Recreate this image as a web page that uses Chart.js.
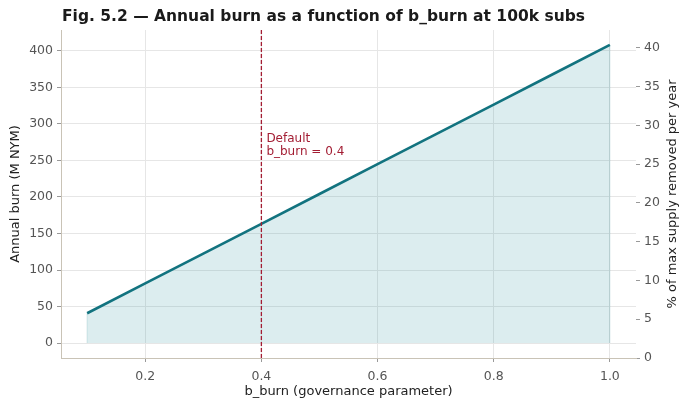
<!DOCTYPE html>
<html>
<head>
<meta charset="utf-8">
<script src="https://cdn.jsdelivr.net/npm/chart.js@4.4.1/dist/chart.umd.min.js"></script>
<style>
  html, body { margin: 0; padding: 0; background: #fff; }
  #wrap { width: 690px; height: 409px; position: relative; }
</style>
</head>
<body>
<div id="wrap"><canvas id="Chart"></canvas></div>
<script>
// b_burn values and the annual burn
const bBurn = [0.1, 0.2, 0.3, 0.4, 0.5, 0.6, 0.7, 0.8, 0.9, 1.0];
const annualBurn = [40.8, 81.6, 122.4, 163.2, 204, 244.8, 285.6, 326.4, 367.2, 408];
const leftTicks = [0, 50, 100, 150, 200, 250, 300, 350, 400];
const rightTicks = [0, 5, 10, 15, 20, 25, 30, 35, 40];
const xTicks = [0.2, 0.4, 0.6, 0.8, 1.0];
const defaultB = 0.4;

const FONT = 'DejaVu Sans, sans-serif';
const lineColor = '#12737f';
const markColor = '#a31d33';

const points = bBurn.map((b, i) => ({ x: b, y: annualBurn[i] }));

// title, axis titles, default marker and label
const extras = {
    id: 'extras',
    beforeDatasetsDraw(chart) {
        const { ctx, scales } = chart;
        // faint edges of the filled area
        const x0 = scales.x.getPixelForValue(bBurn[0]);
        const x1 = scales.x.getPixelForValue(bBurn[bBurn.length - 1]);
        ctx.save();
        ctx.strokeStyle = 'rgba(18,115,127,0.18)';
        ctx.lineWidth = 1;
        ctx.beginPath();
        ctx.moveTo(x1, scales.y.getPixelForValue(0));
        ctx.lineTo(x1, scales.y.getPixelForValue(annualBurn[annualBurn.length - 1]));
        ctx.moveTo(x0, scales.y.getPixelForValue(0));
        ctx.lineTo(x0, scales.y.getPixelForValue(annualBurn[0]));
        ctx.stroke();
        ctx.restore();
    },
    afterDatasetsDraw(chart) {
        const { ctx, chartArea, scales } = chart;
        const x = scales.x.getPixelForValue(defaultB);
        ctx.save();
        ctx.strokeStyle = markColor;
        ctx.lineWidth = 1.3;
        ctx.setLineDash([4, 2]);
        ctx.beginPath();
        ctx.moveTo(x, chartArea.top);
        ctx.lineTo(x, chartArea.bottom);
        ctx.stroke();
        ctx.setLineDash([]);
        ctx.fillStyle = markColor;
        ctx.font = '12px ' + FONT;
        ctx.textBaseline = 'middle';
        ctx.fillText('Default', x + 5, 138.5);
        ctx.fillText('b_burn = 0.4', x + 5, 151.5);

        ctx.fillStyle = '#1a1a1a';
        ctx.font = 'bold 15.5px ' + FONT;
        ctx.textBaseline = 'alphabetic';
        ctx.fillText('Fig. 5.2 \u2014 Annual burn as a function of b_burn at 100k subs', 62, 21);

        // axis titles
        const midY = (chartArea.top + chartArea.bottom) / 2;
        ctx.fillStyle = '#222';
        ctx.font = '13px ' + FONT;
        ctx.textAlign = 'center';
        ctx.textBaseline = 'middle';
        ctx.fillText('b_burn (governance parameter)', (chartArea.left + chartArea.right) / 2, 392);
        ctx.save();
        ctx.translate(16, midY);
        ctx.rotate(-Math.PI / 2);
        ctx.fillText('Annual burn (M NYM)', 0, 0);
        ctx.restore();
        ctx.save();
        ctx.translate(673, midY);
        ctx.rotate(-Math.PI / 2);
        ctx.fillText('% of max supply removed per year', 0, 0);
        ctx.restore();
        ctx.restore();
    }
};

const tickFont = { family: FONT, size: 12.5 };

const config = {
    type: 'line',
    data: {
        datasets: [{
            data: points,
            borderColor: lineColor,
            borderWidth: 2.6,
            backgroundColor: 'rgba(40,140,155,0.16)',
            fill: 'origin',
            pointRadius: 0,
            tension: 0,
            yAxisID: 'y',
        }],
    },
    options: {
        responsive: true,
        maintainAspectRatio: false,
        animation: false,
        layout: { padding: { top: 30, left: 0, right: 0, bottom: 0 } },
        plugins: {
            legend: { display: false },
            title: { display: false },
            tooltip: { enabled: false },
        },
        scales: {
            x: {
                type: 'linear',
                min: 0.055,
                max: 1.045,
                afterBuildTicks(scale) { scale.ticks = xTicks.map(v => ({ value: v })); },
                afterFit(scale) { scale.height = 51; },
                ticks: {
                    color: '#555',
                    font: tickFont,
                    padding: 7,
                    callback: v => v.toFixed(1),
                },
                grid: { color: '#e6e6e6', tickColor: '#999', tickLength: 4 },
                border: { color: '#c9c3b6', width: 1 },
            },
            y: {
                position: 'left',
                min: -20.4,
                max: 428.4,
                afterBuildTicks(scale) { scale.ticks = leftTicks.map(v => ({ value: v })); },
                afterFit(scale) { scale.width = 61; },
                ticks: {
                    color: '#555',
                    font: tickFont,
                    padding: 4,
                },
                grid: { color: '#e6e6e6', tickColor: '#999', tickLength: 4 },
                border: { color: '#c9c3b6', width: 1 },
            },
            y2: {
                position: 'right',
                min: 0,
                max: 42.3,
                afterBuildTicks(scale) { scale.ticks = rightTicks.map(v => ({ value: v })); },
                afterFit(scale) { scale.width = 54; },
                ticks: {
                    color: '#555',
                    font: tickFont,
                    padding: 4,
                },
                grid: { drawOnChartArea: false, tickColor: '#999', tickLength: 4 },
                border: { display: false },
            },
        },
    },
    plugins: [extras],
};

const ctx = document.getElementById('Chart').getContext('2d');
const myChart = new Chart(ctx, config);
</script>
</body>
</html>
